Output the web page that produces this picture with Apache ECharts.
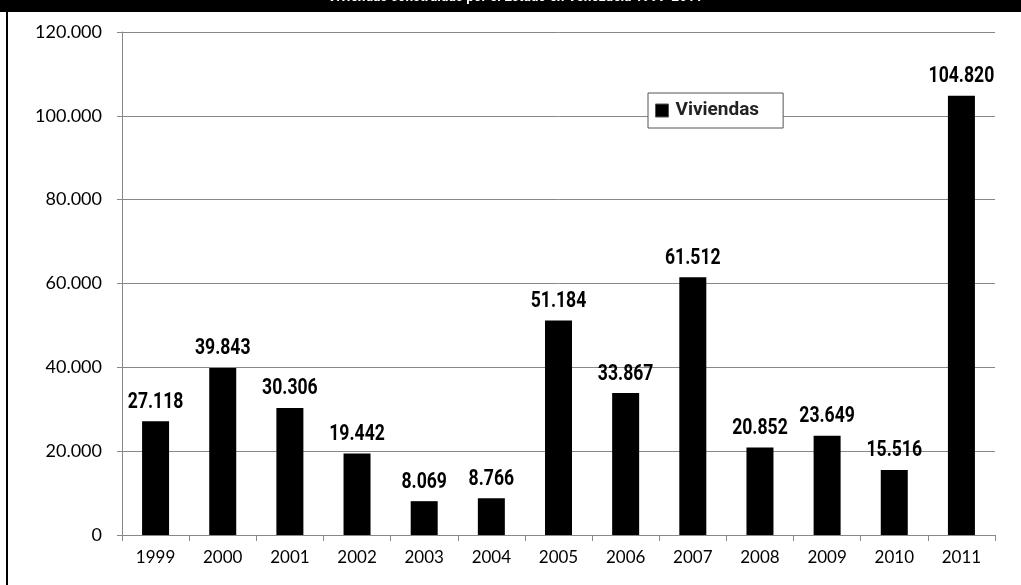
<!DOCTYPE html>
<html><head><meta charset="utf-8">
<script src="https://cdn.jsdelivr.net/npm/echarts@6/dist/echarts.min.js"></script>
<style>html,body{margin:0;padding:0;background:#fff}#c{width:1021px;height:585px}</style>
</head><body><div id="c"></div>
<script>
var titleText = 'Viviendas construidas por el Estado en Venezuela 1999-2011';
var categories = ['1999','2000','2001','2002','2003','2004','2005','2006','2007','2008','2009','2010','2011'];
var viviendas = [27118, 39843, 30306, 19442, 8069, 8766, 51184, 33867, 61512, 20852, 23649, 15516, 104820];
var seriesName = 'Viviendas';

function fmt(v){ return String(v).replace(/\B(?=(\d{3})+(?!\d))/g, '.'); }

var boldFont = 'Roboto, sans-serif';
var axisFont = 'Lato, Open Sans, sans-serif';

var labelData = viviendas.map(function(v, i){ return [i, v]; });

var chart = echarts.init(document.getElementById('c'), null, {renderer:'canvas'});
chart.setOption({
  animation:false,
  backgroundColor:'#fff',
  graphic:[
    {type:'rect', shape:{x:0,y:0,width:1021,height:12}, style:{fill:'#000'}, z:10},
    {type:'text', x:515, y:5, scaleX:0.85, style:{text:titleText, fill:'#fff', font:'bold 16px ' + boldFont, textAlign:'center', textVerticalAlign:'bottom'}, z:11},
    {type:'rect', shape:{x:6,y:12,width:2,height:573}, style:{fill:'#000'}, z:10}
  ],
  grid:{left:122, right:26, top:32, bottom:50, containLabel:false},
  legend:{
    data:[seriesName], left:648, top:93, orient:'horizontal',
    backgroundColor:'#fff', borderColor:'#555', borderWidth:1,
    padding:[8,24,8,7], itemWidth:13, itemHeight:13, itemGap:10, icon:'rect',
    textStyle:{fontFamily:boldFont, fontWeight:'bold', fontSize:19, color:'#222', padding:[0,0,0,2]},
    itemStyle:{borderColor:'#555', borderWidth:1}
  },
  xAxis:{
    type:'category', data:categories, boundaryGap:true,
    axisLine:{lineStyle:{color:'#888'}},
    axisTick:{show:true, length:6, lineStyle:{color:'#888'}},
    axisLabel:{color:'#000', fontSize:17, fontFamily:axisFont, margin:14}
  },
  yAxis:{
    type:'value', min:0, max:120000, interval:20000,
    axisLine:{show:true, lineStyle:{color:'#888'}},
    axisTick:{show:true, length:5, lineStyle:{color:'#888'}},
    splitLine:{lineStyle:{color:'#888'}},
    axisLabel:{color:'#000', fontSize:18, fontFamily:axisFont, margin:20, formatter:function(v){return fmt(v);}}
  },
  series:[{
    name:seriesName, type:'bar', data:viviendas, barWidth:27,
    itemStyle:{color:'#000'}
  },{
    name:'labels', type:'custom', data:labelData, encode:{x:0, y:1}, z:5,
    renderItem:function(params, api){
      var p = api.coord([api.value(0), api.value(1)]);
      return {type:'text', x:p[0], y:p[1]-8, scaleX:0.8, scaleY:1,
        style:{text:fmt(api.value(1)), fill:'#000', font:'bold 22px ' + boldFont,
          textAlign:'center', textVerticalAlign:'bottom', align:'center', verticalAlign:'bottom'}};
    },
    silent:true
  }]
});
</script></body></html>
